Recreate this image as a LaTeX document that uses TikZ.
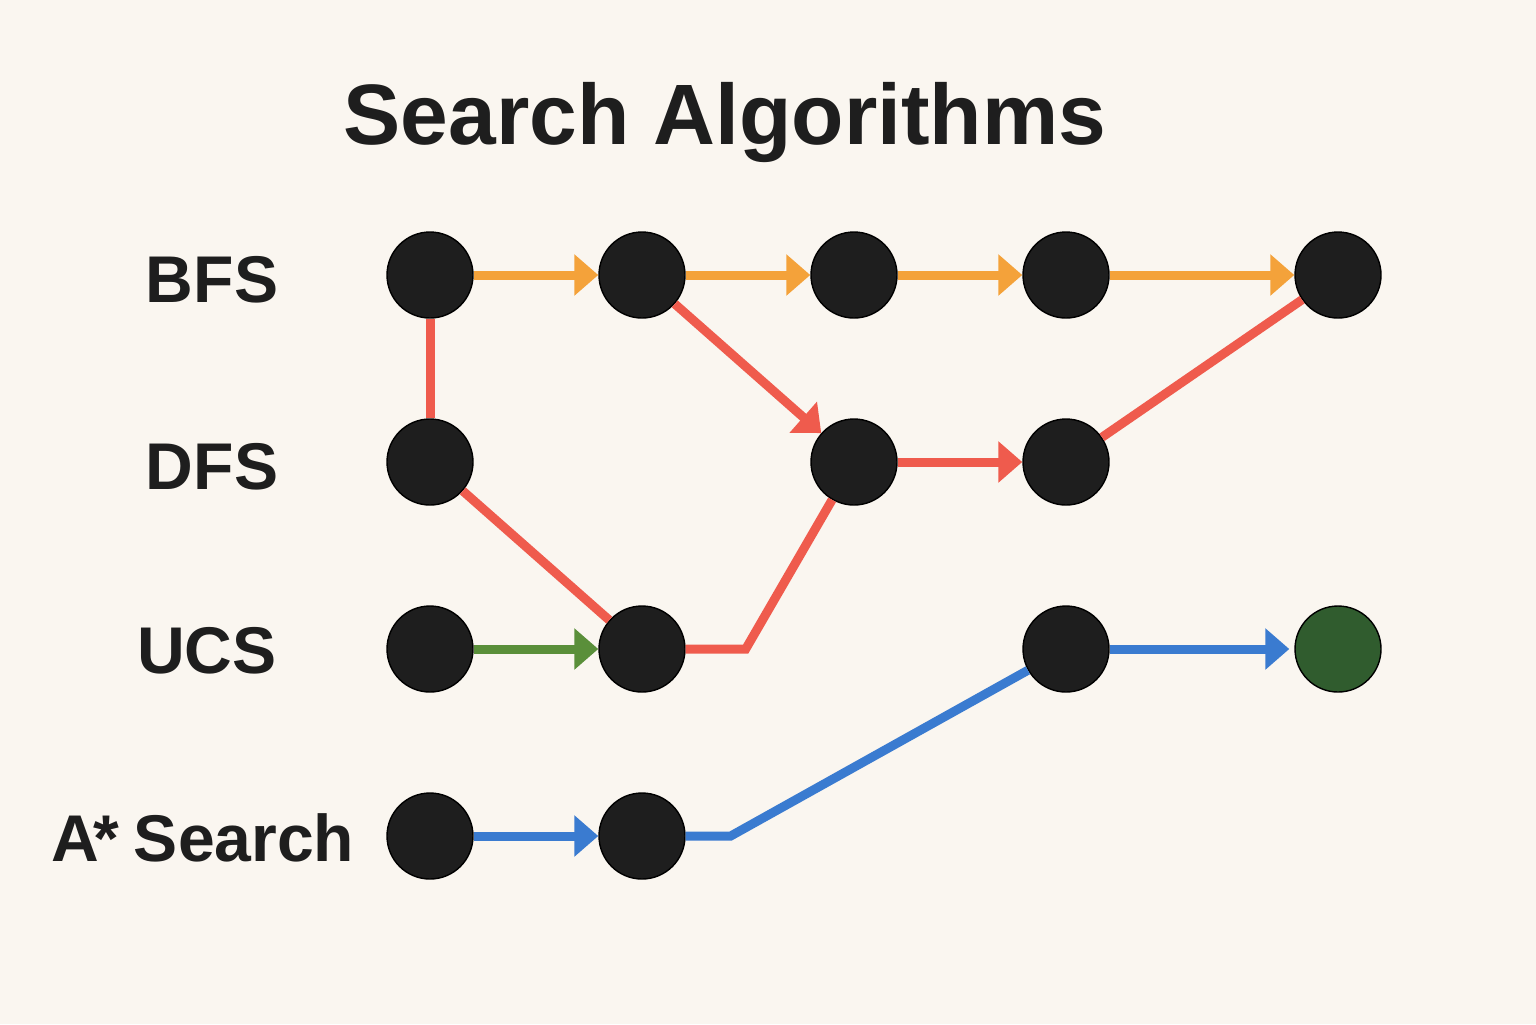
\documentclass[tikz,border=0pt]{standalone}
\usepackage{fontspec}
\setmainfont{Liberation Sans}
\usetikzlibrary{automata, arrows.meta, positioning}
\definecolor{bgcream}{HTML}{FAF6F0}
\definecolor{nodeblack}{HTML}{1E1E1E}
\definecolor{bfsorange}{HTML}{F4A23A}
\definecolor{dfsred}{HTML}{EF5B4D}
\definecolor{ucsgreen}{HTML}{5A8F3A}
\definecolor{astarblue}{HTML}{3A7BD0}
\definecolor{goalgreen}{HTML}{305C2E}

\begin{document}
\begin{tikzpicture}[->, >={Triangle[length=0.24cm,width=0.4cm]}, auto, line width=0.09cm, node distance=2.12cm, on grid]
        \tikzstyle{every state}=[fill=nodeblack,draw=black,thin,minimum size=0.86cm,inner sep=0pt]
        \tikzstyle{lbl}=[font=\bfseries\fontsize{18.8}{22}\selectfont,text=nodeblack]
        \tikzstyle{bfs}=[draw=bfsorange]
        \tikzstyle{dfs}=[draw=dfsred]
        \tikzstyle{ucs}=[draw=ucsgreen]
        \tikzstyle{astar}=[draw=astarblue]
        \fill[bgcream,-] (0,0) rectangle (15.36,-10.24);
        \useasboundingbox (0,0) rectangle (15.36,-10.24);
        % title
        \node[font=\bfseries\fontsize{24.4}{29}\selectfont,text=nodeblack,anchor=base] (title) at (7.25,-1.44) {Search Algorithms};
        % grid of states
        \node[state]    (b1) at (4.30,-2.75)       {};
        \node[state]    (b2)[right=of b1]          {};
        \node[state]    (b3)[right=of b2]          {};
        \node[state]    (b4)[right=of b3]          {};
        \node[state]    (b5)[right=2.72cm of b4]   {};
        \node[state]    (d1)[below=1.87cm of b1]   {};
        \node[state]    (d3)[below=1.87cm of b3]   {};
        \node[state]    (d4)[below=1.87cm of b4]   {};
        \node[state]    (u1)[below=1.87cm of d1]   {};
        \node[state]    (u2)[right=of u1]          {};
        \node[state]    (u4)[below=1.87cm of d4]   {};
        \node[state,fill=goalgreen] (goal)[right=2.72cm of u4] {};
        \node[state]    (a1)[below=1.87cm of u1]   {};
        \node[state]    (a2)[right=of a1]          {};
        % row labels
        \node[lbl]      (lbfs)[left=2.18cm of b1, yshift=-0.05cm]   {BFS};
        \node[lbl]      (ldfs)[left=2.18cm of d1, yshift=-0.05cm]   {DFS};
        \node[lbl]      (lucs)[left=2.23cm of u1, yshift=-0.02cm]  {UCS};
        \node[lbl]      (lastar)[left=2.27cm of a1, yshift=-0.02cm] {A\kern-0.08em*\kern-0.06em\ Search};
        % BFS
        \path
        (b1) edge[bfs]      (b2)
        (b2) edge[bfs]      (b3)
        (b3) edge[bfs]      (b4)
        (b4) edge[bfs]      (b5);
        % DFS
        \path
        (b1) edge[dfs,-]    (d1)
        (b2) edge[dfs]      (d3)
        (d3) edge[dfs]      (d4)
        (d4) edge[dfs,-]    (b5)
        (d1) edge[dfs,-]    (u2);
        \draw[dfs,-] (u2.east) -- ++(0.6,0) -- (d3);
        % UCS
        \path (u1) edge[ucs] (u2);
        % A*
        \path
        (a1) edge[astar]    (a2)
        (u4) edge[astar,shorten >=0.05cm] (goal);
        \draw[astar,-] (a2.east) -- ++(0.45,0) -- (u4);
      \end{tikzpicture}
\end{document}
